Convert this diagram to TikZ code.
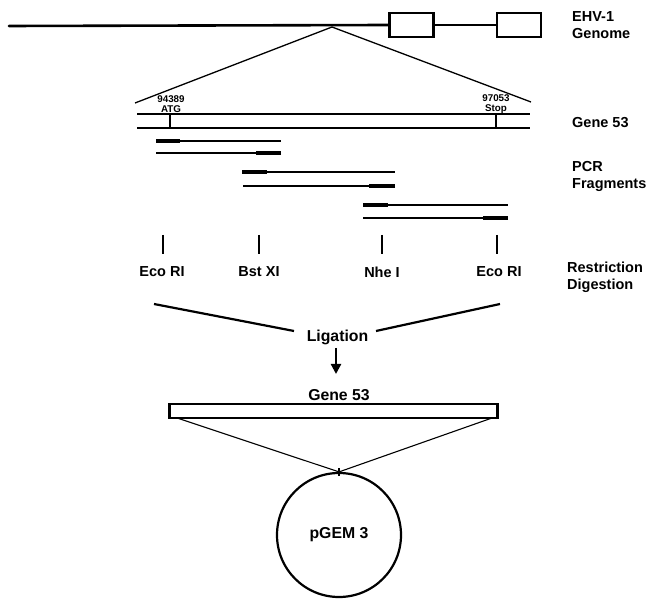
\documentclass[tikz,border=0pt]{standalone}
\usepackage{fontspec}
\setmainfont{Liberation Sans}
\usetikzlibrary{arrows.meta}
\begin{document}
\begin{tikzpicture}[x=1pt,y=-1pt,
  lab/.style={font=\bfseries\fontsize{14.5}{16}\selectfont, inner sep=0pt},
  biglab/.style={font=\bfseries\fontsize{15.8}{17}\selectfont, inner sep=0pt},
  sidelab/.style={lab, anchor=west, align=left, font=\bfseries\fontsize{14.5}{17}\selectfont},
  small/.style={font=\bfseries\fontsize{9.8}{9.5}\selectfont, inner sep=0pt, align=center},
  gbox/.style={draw, line width=2.2pt, minimum width=44pt, minimum height=24pt, inner sep=0pt},
  thin/.style={line width=1.4pt},
  thickpart/.style={line width=4.5pt},
  tick/.style={line width=1.8pt}
]
\useasboundingbox (0,0) rectangle (656,601);

% genome
\coordinate (g0) at (9,26);
\node[gbox] (box1) at (411.5,25) {};
\node[gbox] (box2) at (519,25) {};
\draw[line width=2.6pt, line cap=round] (g0) -- (box1.west);
\draw[line width=2.2pt] (box1.east) -- (box2.west);
\node[sidelab] (ehv) at (572,25) {EHV-1\\Genome};

% zoom triangle
\coordinate (apex) at (332,27);
\coordinate (tl) at (135,103);
\coordinate (tr) at (531,102);
\draw[line width=1.3pt] (tl) -- (apex) -- (tr);

% gene 53 double line
\coordinate (gtl) at (137,114);
\coordinate (gtr) at (530,114);
\coordinate (gbl) at (137,128);
\coordinate (gbr) at (530,128);
\draw[line width=2.4pt] (gtl) -- (gtr);
\draw[line width=2.4pt] (gbl) -- (gbr);
\coordinate (atgT) at (170,114);
\coordinate (atgB) at (170,128);
\coordinate (stpT) at (496,114);
\coordinate (stpB) at (496,128);
\draw[tick] (atgT) -- (atgB);
\draw[tick] (stpT) -- (stpB);
\node[small] (atg) at (171,104) {94389\\ATG};
\node[small] (stop) at (496,104) {97053\\Stop};
\node[sidelab] (g53) at (572,123) {Gene 53};

% PCR fragments
\coordinate (f1a) at (156,141); \coordinate (f1b) at (281,141);
\coordinate (f1c) at (156,153); \coordinate (f1d) at (281,153);
\draw[thin] (f1a) -- (f1b);
\draw[thickpart] (f1a) -- ++(24,0);
\draw[thin] (f1c) -- (f1d);
\draw[thickpart] (f1d) -- ++(-25,0);

\coordinate (f2a) at (242,172); \coordinate (f2b) at (395,172);
\coordinate (f2c) at (243,186); \coordinate (f2d) at (395,186);
\draw[thin] (f2a) -- (f2b);
\draw[thickpart] (f2a) -- ++(25,0);
\draw[thin] (f2c) -- (f2d);
\draw[thickpart] (f2d) -- ++(-26,0);

\coordinate (f3a) at (363,205); \coordinate (f3b) at (508,205);
\coordinate (f3c) at (363,218); \coordinate (f3d) at (508,218);
\draw[thin] (f3a) -- (f3b);
\draw[thickpart] (f3a) -- ++(25,0);
\draw[thin] (f3c) -- (f3d);
\draw[thickpart] (f3d) -- ++(-25,0);

\node[sidelab] (pcr) at (572,176) {PCR\\Fragments};

% restriction sites
\node[lab] (eco1) at (162,272) {Eco RI};
\node[lab] (bst) at (259,272) {Bst XI};
\node[lab] (nhe) at (382,272) {Nhe I};
\node[lab] (eco2) at (499,272) {Eco RI};
\draw[tick] (163,235) -- (163,254);
\draw[tick] (259,235) -- (259,254);
\draw[tick] (382,235) -- (382,254);
\draw[tick] (497,235) -- (497,254);
\node[sidelab] (restr) at (567,277) {Restriction\\Digestion};

% ligation
\node[biglab] (lig) at (337.5,337) {Ligation};
\coordinate (l1) at (154,304); \coordinate (l1e) at (294,331);
\coordinate (l2) at (500,304); \coordinate (l2e) at (376,331);
\draw[line width=2.2pt] (l1) -- (l1e);
\draw[line width=2.2pt] (l2) -- (l2e);
\coordinate (arA) at (336,348);
\coordinate (arB) at (336,374);
\draw[line width=2.2pt, -{Triangle[length=10pt,width=10pt]}] (arA) -- (arB);

% gene 53 insert
\node[draw, line width=2.4pt, minimum width=328pt, minimum height=14pt, inner sep=0pt] (ins) at (333.5,411) {};
\node[biglab] (g53b) at (339,395) {Gene 53};
\coordinate (insL) at (177,418);
\coordinate (insR) at (492,418);

% plasmid
\node[draw, circle, line width=2.2pt, minimum size=124pt, inner sep=0pt] (pgem) at (339,535) {};
\node[biglab] at (pgem.center) (pgemlab) {pGEM 3};
\draw[line width=1.1pt] (insL) -- (pgem.north) -- (insR);
\draw[line width=2.2pt] ([yshift=-4pt]pgem.north) -- ([yshift=4pt]pgem.north);
\end{tikzpicture}
\end{document}
